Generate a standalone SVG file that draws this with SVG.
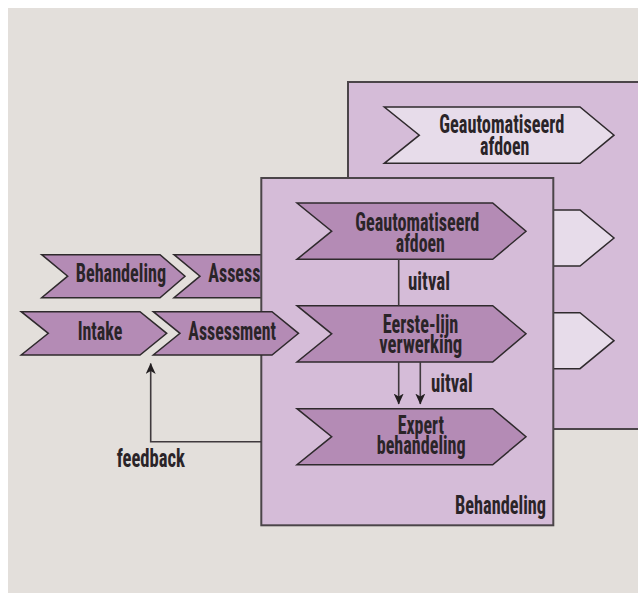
<svg xmlns="http://www.w3.org/2000/svg" width="638" height="593" viewBox="0 0 638 593">
<style>
.bg{fill:#e3dfdb}
.box{fill:#d5bcd8;stroke:#4b4549;stroke-width:2}
.chev{fill:#b48bb5;stroke:#2f2a2d;stroke-width:1.5;stroke-linejoin:miter}
.chevl{fill:#e7dcea;stroke:#2f2a2d;stroke-width:1.5}
.t{font-family:"Liberation Sans Narrow","Roboto Condensed","DejaVu Sans Condensed","Liberation Sans",sans-serif;font-size:25px;font-weight:bold;fill:#2a2428;text-anchor:middle}
.ts{text-anchor:start}
.ln{fill:none;stroke:#3f393d;stroke-width:1.6}
</style>
<defs>
<marker id="ah" viewBox="0 0 11 10" refX="10.5" refY="5" markerWidth="11" markerHeight="10" markerUnits="userSpaceOnUse" orient="auto">
<path d="M0,0 L11,5 L0,10 L3,5 Z" fill="#231f21"/>
</marker>
</defs>
<rect x="0" y="0" width="638" height="593" fill="#ffffff"/>
<rect class="bg" x="8" y="8" width="630" height="585"/>

<g id="back-box">
<rect class="box" x="348" y="82" width="300" height="347"/>
</g>
<g id="back-geautomatiseerd">
<path class="chevl" d="M384.3,107 L580,107 L614,135.2 L580,163.3 L384.3,163.3 L419.3,135.2 Z"/>
<text class="t" x="501.8" y="133" textLength="125" lengthAdjust="spacingAndGlyphs">Geautomatiseerd</text>
<text class="t" x="504.7" y="154.5" textLength="49.3" lengthAdjust="spacingAndGlyphs">afdoen</text>
</g>
<g id="back-chev-2">
<path class="chevl" d="M384.3,210 L580,210 L614,238 L580,266 L384.3,266 L419.3,238 Z"/>
</g>
<g id="back-chev-3">
<path class="chevl" d="M384.3,312.7 L580,312.7 L614,340.7 L580,368.7 L384.3,368.7 L419.3,340.7 Z"/>
</g>

<g id="behandeling-left">
<path class="chev" d="M41.7,254.7 L160,254.7 L185,276.2 L160,297.7 L41.7,297.7 L67.7,276.2 Z"/>
<text class="t" x="120.9" y="282" textLength="90.3" lengthAdjust="spacingAndGlyphs">Behandeling</text>
</g>
<g id="assess-upper">
<path class="chev" d="M174,254.7 L272,254.7 L298,276.2 L272,297.7 L174,297.7 L200,276.2 Z"/>
<text class="t ts" x="208.3" y="282" textLength="52" lengthAdjust="spacingAndGlyphs">Assess</text>
</g>

<g id="front-box">
<rect class="box" x="261.3" y="178" width="292" height="347.3"/>
<text class="t" x="500.5" y="514" textLength="91" lengthAdjust="spacingAndGlyphs">Behandeling</text>
</g>
<g id="front-geautomatiseerd">
<path class="chev" d="M297,203 L492.7,203 L526,231.2 L492.7,259.3 L297,259.3 L331.7,231.2 Z"/>
<text class="t" x="417.3" y="230.5" textLength="124" lengthAdjust="spacingAndGlyphs">Geautomatiseerd</text>
<text class="t" x="420.3" y="252" textLength="49" lengthAdjust="spacingAndGlyphs">afdoen</text>
</g>
<g id="eerste-lijn">
<path class="chev" d="M297,305.7 L492.7,305.7 L526,333.8 L492.7,362 L297,362 L331.7,333.8 Z"/>
<text class="t" x="420.5" y="333" textLength="75.7" lengthAdjust="spacingAndGlyphs">Eerste-lijn</text>
<text class="t" x="420.8" y="353" textLength="83" lengthAdjust="spacingAndGlyphs">verwerking</text>
</g>
<g id="expert">
<path class="chev" d="M297,408.7 L492.7,408.7 L526,436.7 L492.7,464.7 L297,464.7 L331.7,436.7 Z"/>
<text class="t" x="420.8" y="433.5" textLength="46.3" lengthAdjust="spacingAndGlyphs">Expert</text>
<text class="t" x="421.2" y="454" textLength="89" lengthAdjust="spacingAndGlyphs">behandeling</text>
</g>

<g id="intake">
<path class="chev" d="M21.2,311.7 L140,311.7 L166.7,333.3 L140,355 L21.2,355 L48.3,333.3 Z"/>
<text class="t" x="100" y="340" textLength="44.7" lengthAdjust="spacingAndGlyphs">Intake</text>
</g>
<g id="assessment">
<path class="chev" d="M153.3,311.7 L272,311.7 L298.5,333.3 L272,355 L153.3,355 L180,333.3 Z"/>
<text class="t" x="232.2" y="340" textLength="87.7" lengthAdjust="spacingAndGlyphs">Assessment</text>
</g>

<g id="connectors">
<line class="ln" x1="398.7" y1="259.3" x2="398.7" y2="305.7"/>
<text class="t ts" x="408" y="290" textLength="42" lengthAdjust="spacingAndGlyphs">uitval</text>
<line class="ln" x1="398.7" y1="362" x2="398.7" y2="404" marker-end="url(#ah)"/>
<line class="ln" x1="420.3" y1="362" x2="420.3" y2="404" marker-end="url(#ah)"/>
<text class="t ts" x="431" y="392" textLength="41.7" lengthAdjust="spacingAndGlyphs">uitval</text>
<polyline class="ln" points="261.3,441.7 150.7,441.7 150.7,363.5" marker-end="url(#ah)"/>
<text class="t" x="150.8" y="466.7" textLength="68.3" lengthAdjust="spacingAndGlyphs">feedback</text>
</g>
</svg>
